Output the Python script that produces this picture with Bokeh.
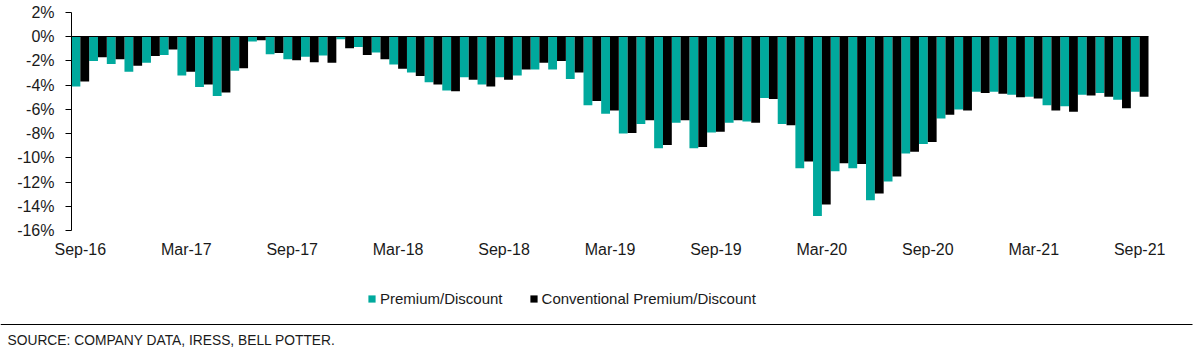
import pandas as pd
from bokeh.plotting import figure
from bokeh.models import (Range1d, FixedTicker, PrintfTickFormatter, Legend,
                          LegendItem, Label, BoxAnnotation, LinearAxis)
from bokeh.embed import file_html
from bokeh.resources import INLINE

# ---- data -------------------------------------------------------------
months = list(pd.date_range("2016-09-01", periods=61, freq="MS").strftime("%b-%y"))
tick_labels = ["Sep-16", "Mar-17", "Sep-17", "Mar-18", "Sep-18", "Mar-19",
               "Sep-19", "Mar-20", "Sep-20", "Mar-21", "Sep-21"]
premium = [-4.1, -2.0, -2.25, -2.9, -2.15, -1.5, -3.2, -4.15, -4.9, -2.8,
           -0.4, -1.45, -1.85, -1.65, -1.55, -0.2, -0.85, -1.3, -2.3, -2.95,
           -3.75, -4.45, -3.35, -3.95, -3.35, -3.2, -2.7, -2.7, -3.5, -5.65,
           -6.35, -8.0, -7.2, -9.2, -7.1, -9.2, -7.9, -7.1, -7.0, -5.05,
           -7.2, -10.85, -14.8, -11.1, -10.85, -13.5, -11.95, -9.65, -8.85, -6.75,
           -6.0, -4.55, -4.55, -4.8, -4.95, -5.65, -5.75, -4.8, -4.65, -5.2, -4.55]
conventional = [-3.7, -1.7, -1.85, -2.4, -1.6, -1.05, -2.9, -3.95, -4.6, -2.6,
                -0.3, -1.35, -1.95, -2.1, -2.15, -0.95, -1.5, -1.85, -2.65, -3.25,
                -3.95, -4.5, -3.55, -4.1, -3.55, -2.7, -2.15, -2.0, -2.95, -5.3,
                -6.1, -7.95, -6.9, -8.95, -6.9, -9.1, -7.85, -6.9, -7.1, -5.15,
                -7.3, -10.3, -13.85, -10.45, -10.5, -12.95, -11.55, -9.5, -8.7, -6.45,
                -6.1, -4.65, -4.7, -5.0, -5.1, -6.1, -6.2, -4.85, -4.95, -5.9, -4.95]
series_names = ["Premium/Discount", "Conventional Premium/Discount"]
y_min, y_max = -16, 2
y_ticks = list(range(y_min, y_max + 1, 2))
source_text = "SOURCE: COMPANY DATA, IRESS, BELL POTTER."

TEAL = "#00A99D"
BLACK = "#000000"
FONT = "Liberation Sans"
TXT = "#1a1a1a"

W, H = 1200, 354
n = len(months)
idx = list(range(n))

# plot-area geometry in pixels (the frame fills the whole canvas)
left_px, right_px, top_px, bottom_px = 71, 1148, 12, 230
px_per_cat = (right_px - left_px) / n
px_per_unit = (bottom_px - top_px) / (y_max - y_min)
x_start = -0.5 - left_px / px_per_cat
x_end = n - 0.5 + (W - right_px) / px_per_cat
y_top = y_max + top_px / px_per_unit
y_bot = y_min - (H - bottom_px) / px_per_unit

p = figure(width=W, height=H, output_backend="svg", toolbar_location=None,
           x_range=Range1d(x_start, x_end), y_range=Range1d(y_bot, y_top),
           min_border=0)
p.outline_line_color = None
p.xgrid.visible = False
p.ygrid.visible = False
p.background_fill_color = "white"
p.border_fill_color = "white"

r1 = p.vbar(x=[i - 0.25 for i in idx], top=premium, bottom=0, width=0.5,
            fill_color=TEAL, line_color=None)
r2 = p.vbar(x=[i + 0.25 for i in idx], top=conventional, bottom=0, width=0.5,
            fill_color=BLACK, line_color=None)

# y axis, fixed at the left edge of the categories
ya = p.yaxis[0]
ya.fixed_location = -0.5
ya.bounds = (y_min, y_max)
ya.ticker = FixedTicker(ticks=y_ticks)
ya.formatter = PrintfTickFormatter(format="%d%%")
ya.major_tick_in = 0
ya.major_tick_out = 6
ya.minor_tick_line_color = None
ya.axis_line_color = "black"
ya.major_tick_line_color = "black"
ya.major_label_standoff = 11
ya.major_label_text_font = FONT
ya.major_label_text_font_size = "16px"
ya.major_label_text_color = TXT

# category labels, placed at the bottom of the value range
xa = p.xaxis[0]
xa.fixed_location = y_min
xa.bounds = (-0.5, n - 0.5)
tick_pos = [months.index(t) for t in tick_labels]
xa.ticker = FixedTicker(ticks=tick_pos)
xa.major_label_overrides = {pos: lab for pos, lab in zip(tick_pos, tick_labels)}
xa.axis_line_color = None
xa.major_tick_line_color = None
xa.minor_tick_line_color = None
xa.major_label_standoff = 4
xa.major_label_text_font = FONT
xa.major_label_text_font_size = "16px"
xa.major_label_text_color = TXT

# horizontal axis line crossing at zero
zero_axis = LinearAxis(fixed_location=0, bounds=(-0.5, n - 0.5),
                       ticker=FixedTicker(ticks=[]), axis_line_color="black",
                       major_tick_line_color=None, minor_tick_line_color=None)
p.add_layout(zero_axis, "below")

# legend
legend = Legend(items=[LegendItem(label=series_names[0], renderers=[r1]),
                       LegendItem(label=series_names[1], renderers=[r2])],
                orientation="horizontal", location=(367, 47),
                padding=0, margin=0, spacing=26, label_standoff=4,
                glyph_width=9, glyph_height=9, border_line_color=None,
                background_fill_alpha=0, label_text_font=FONT,
                label_text_font_size="15px", label_text_color=TXT)
p.add_layout(legend, "center")

# rule and source note
p.add_layout(BoxAnnotation(left=0, right=1192, top=30.5, bottom=29.5,
                           left_units="screen", right_units="screen",
                           top_units="screen", bottom_units="screen",
                           fill_color="black", fill_alpha=1, line_color=None))
p.add_layout(Label(x=7, y=14, x_units="screen", y_units="screen",
                   text=source_text, text_font=FONT, text_font_size="13.8px",
                   text_color=TXT, text_baseline="middle", text_align="left"))

open("out.html", "w").write(file_html(p, INLINE))
